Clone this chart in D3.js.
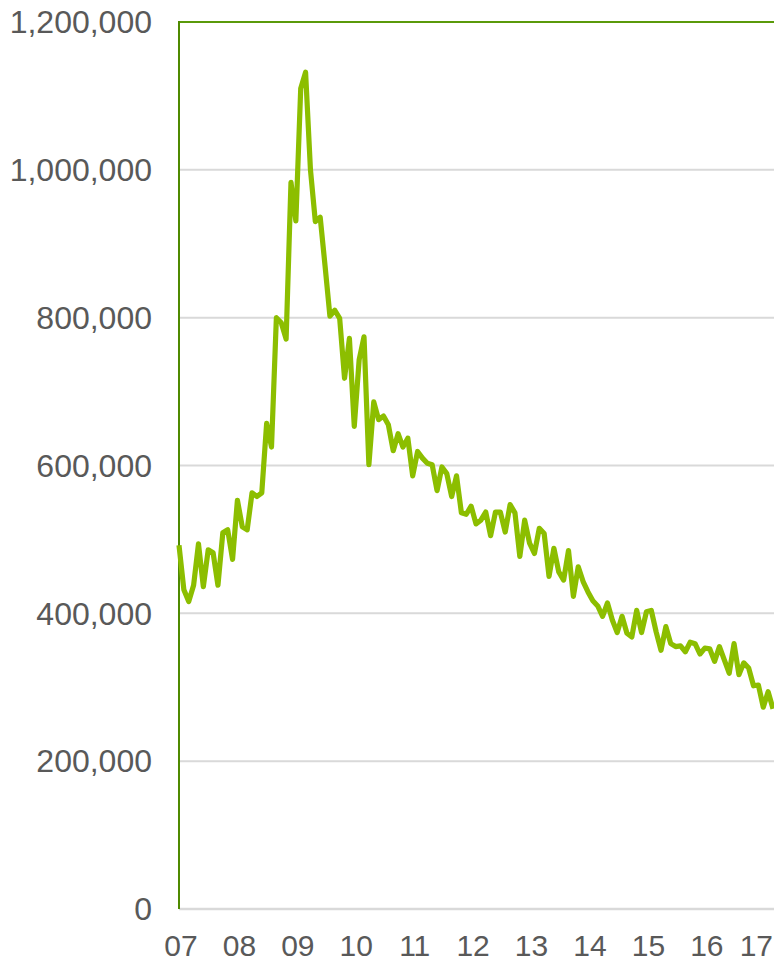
<!DOCTYPE html>
<html>
<head>
<meta charset="utf-8">
<script src="https://cdn.jsdelivr.net/npm/d3@7"></script>
<style>
  html, body { margin: 0; padding: 0; background: #fff; }
  svg { display: block; }
  text { font-family: "Liberation Sans", Arial, sans-serif; }
</style>
</head>
<body>
<svg id="chart" width="774" height="963"></svg>
<script>
// Monthly values, Jan 2007 .. Mar 2017
const values = [
  492000, 432000, 416000, 438000, 494000, 436000, 486000, 482000, 438000, 509000, 513000, 473000,
  553000, 517000, 513000, 563000, 558000, 563000, 657000, 625000, 800000, 793000, 771000, 983000,
  931000, 1110000, 1132000, 1000000, 930000, 936000, 870000, 802000, 810000, 799000, 718000, 772000,
  653000, 743000, 774000, 601000, 686000, 662000, 667000, 655000, 620000, 643000, 625000, 637000,
  586000, 619000, 610000, 603000, 601000, 566000, 598000, 589000, 558000, 586000, 536000, 534000,
  545000, 521000, 526000, 537000, 505000, 537000, 537000, 510000, 547000, 536000, 477000, 526000,
  495000, 481000, 515000, 508000, 450000, 488000, 456000, 445000, 485000, 423000, 463000, 443000,
  429000, 417000, 410000, 396000, 414000, 391000, 374000, 396000, 373000, 368000, 404000, 374000,
  402000, 404000, 375000, 350000, 382000, 359000, 355000, 356000, 348000, 361000, 359000, 345000,
  353000, 352000, 335000, 355000, 337000, 319000, 359000, 317000, 333000, 326000, 302000, 303000,
  273000, 294000, 271000
];
const yearLabels = ["07", "08", "09", "10", "11", "12", "13", "14", "15", "16", "17"];
const yTicks = [0, 200000, 400000, 600000, 800000, 1000000, 1200000];

(function () {
  const svg = d3.select("#chart");
  const W = 774;
  const pLeft = 179, pRight = 774, pTop = 22, pBottom = 909;

  const x = d3.scaleLinear().domain([0, values.length - 1]).range([pLeft, 773]);
  const y = d3.scaleLinear().domain([0, 1200000]).range([pBottom, pTop]);

  // gridlines
  svg.append("g")
    .selectAll("line")
    .data(yTicks.filter(d => d > 0 && d < 1200000))
    .join("line")
    .attr("x1", pLeft).attr("x2", pRight)
    .attr("y1", d => y(d)).attr("y2", d => y(d))
    .attr("stroke", "#d9d9d9").attr("stroke-width", 2);

  // bottom axis line
  svg.append("line")
    .attr("x1", pLeft).attr("x2", pRight)
    .attr("y1", y(0)).attr("y2", y(0))
    .attr("stroke", "#d9d9d9").attr("stroke-width", 2.5);

  // top border
  svg.append("line")
    .attr("x1", pLeft).attr("x2", pRight)
    .attr("y1", y(1200000)).attr("y2", y(1200000))
    .attr("stroke", "#5a9a0a").attr("stroke-width", 2);

  // left axis line
  svg.append("line")
    .attr("x1", pLeft).attr("x2", pLeft)
    .attr("y1", y(1200000) - 1).attr("y2", y(0))
    .attr("stroke", "#4f8a00").attr("stroke-width", 2);

  // y labels
  const fmt = d3.format(",");
  svg.append("g")
    .selectAll("text")
    .data(yTicks)
    .join("text")
    .attr("x", 152)
    .attr("y", d => y(d))
    .attr("dy", "0.35em")
    .attr("text-anchor", "end")
    .attr("font-size", 32)
    .attr("fill", "#595959")
    .text(d => fmt(d));

  // x labels
  const xl = svg.append("g")
    .selectAll("text")
    .data(yearLabels)
    .join("text")
    .attr("x", (d, i) => x(i * 12) + 2)
    .attr("y", 956)
    .attr("text-anchor", "middle")
    .attr("font-size", 30)
    .attr("fill", "#595959")
    .text(d => d);
  // keep every label inside the picture
  xl.each(function () {
    const b = this.getBBox();
    if (b.x + b.width > W - 1) {
      d3.select(this).attr("x", +d3.select(this).attr("x") - (b.x + b.width - (W - 1)));
    }
  });

  // line
  const line = d3.line()
    .x((d, i) => x(i))
    .y(d => y(d));

  svg.append("path")
    .datum(values)
    .attr("d", line)
    .attr("fill", "none")
    .attr("stroke", "#8cbe00")
    .attr("stroke-width", 5.2)
    .attr("stroke-linejoin", "round")
    .attr("stroke-linecap", "butt");
})();
</script>
</body>
</html>
